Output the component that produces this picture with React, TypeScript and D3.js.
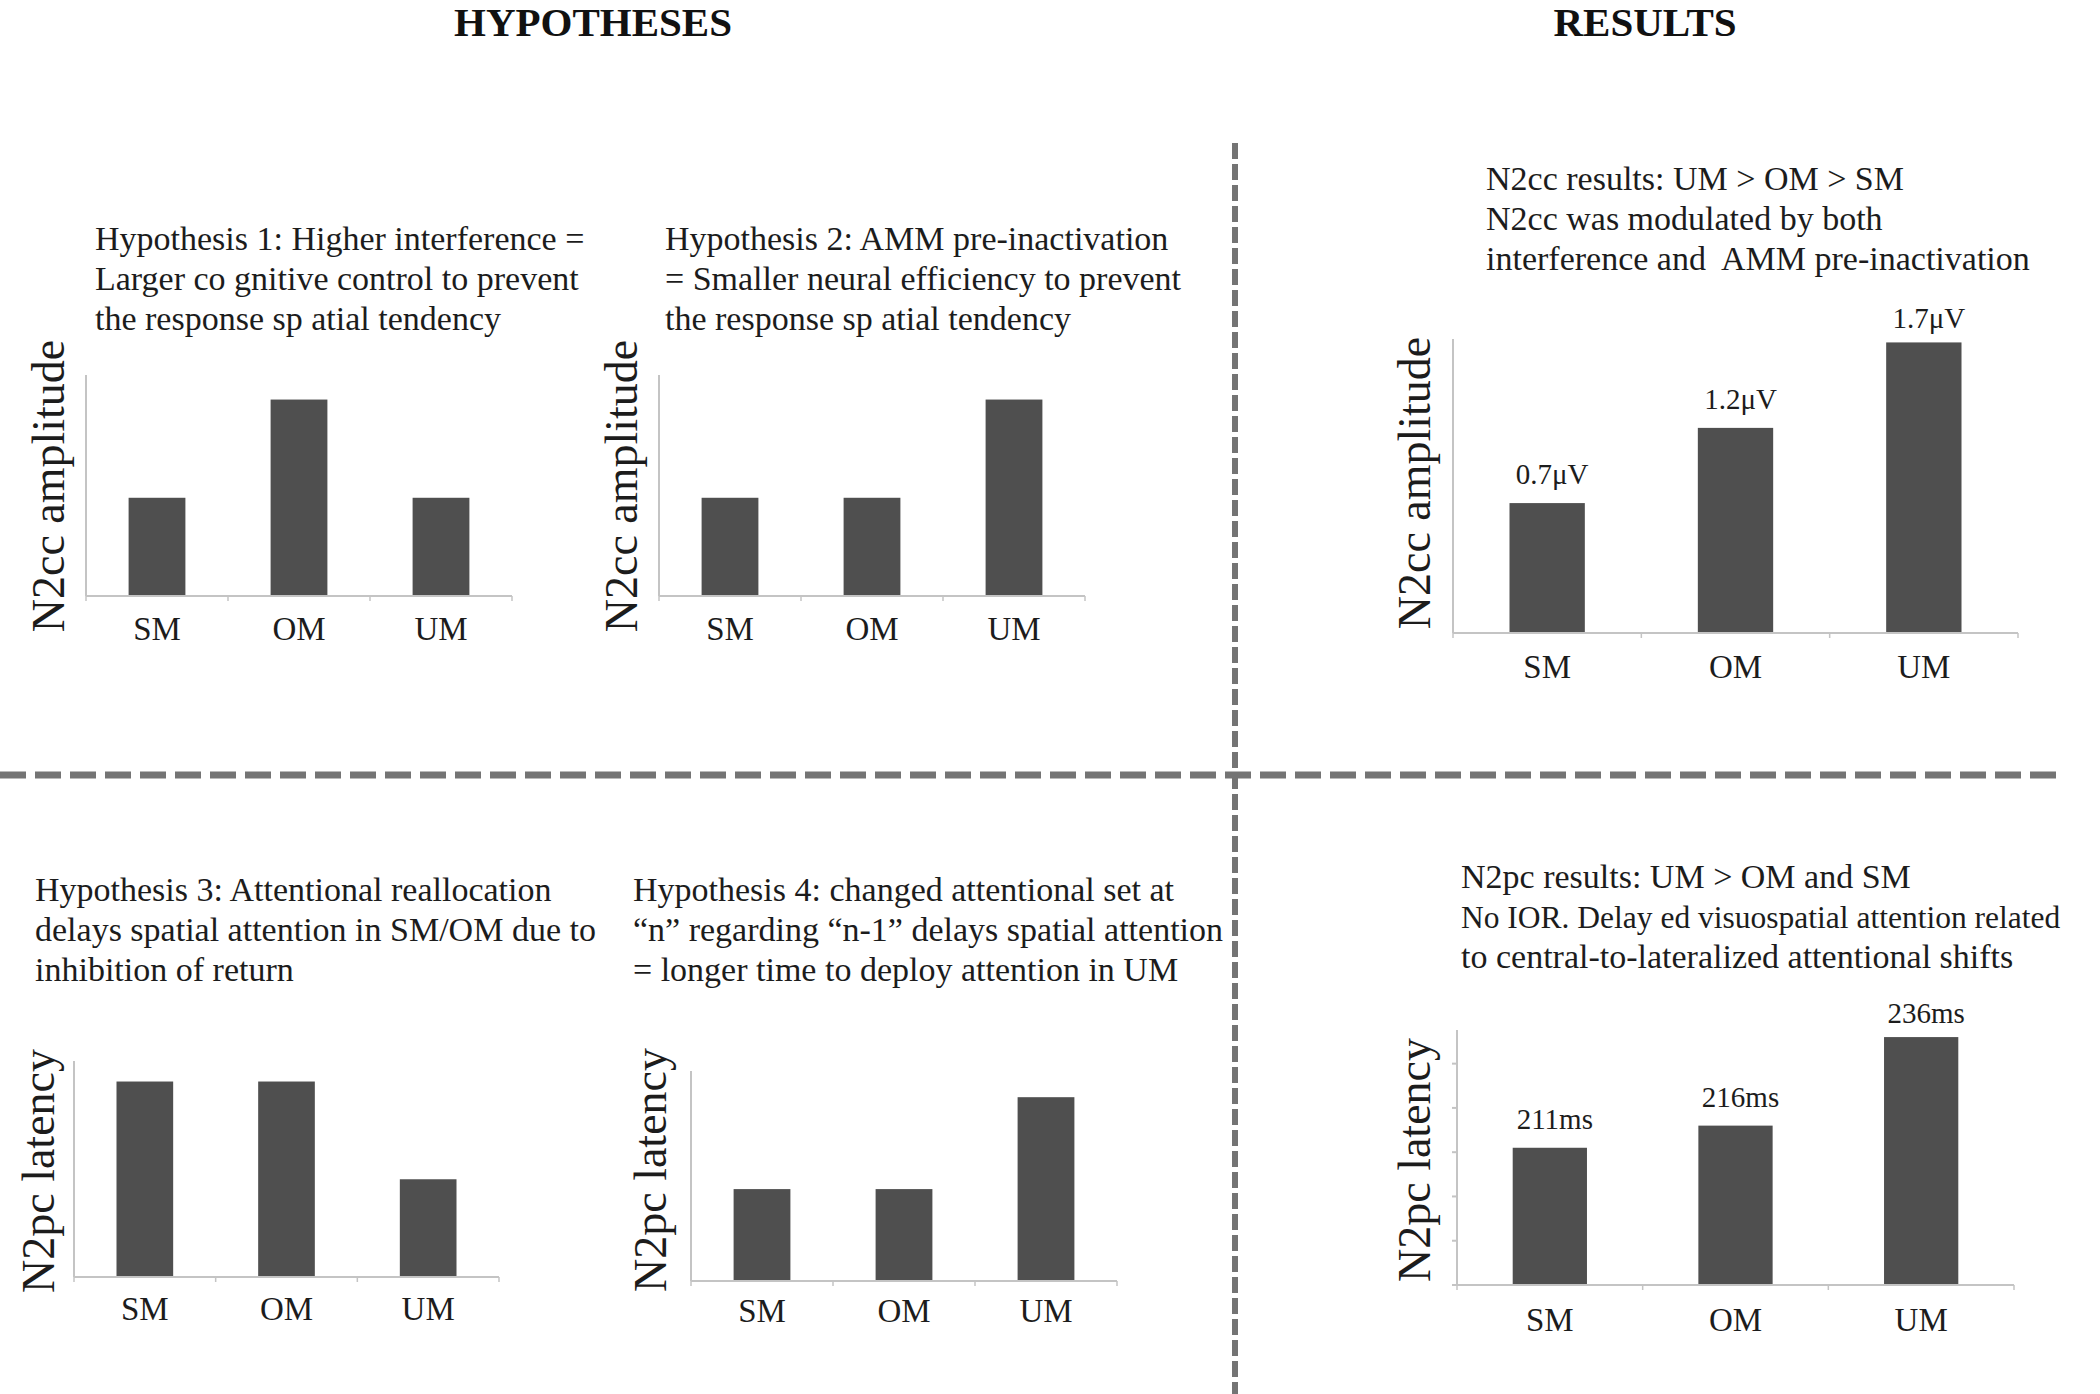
import * as d3 from "d3";

const categories = ["SM", "OM", "UM"];

// hypothesised patterns (arbitrary units)
const hyp1Values = [2, 4, 2];
const hyp2Values = [2, 2, 4];
const hyp3Values = [4, 4, 2];
const hyp4Values = [2, 2, 4];

// observed results
const n2ccValues = [0.76, 1.2, 1.7];
const n2ccLabels = ["0.7μV", "1.2μV", "1.7μV"];
const n2pcValues = [211, 216, 236];
const n2pcLabels = ["211ms", "216ms", "236ms"];
const n2pcTicks = [180, 190, 200, 210, 220, 230];

const hyp1Text = [
  "Hypothesis 1: Higher interference =",
  "Larger co gnitive control to prevent",
  "the response sp atial tendency",
];
const hyp2Text = [
  "Hypothesis 2: AMM pre-inactivation",
  "= Smaller neural efficiency to prevent",
  "the response sp atial tendency",
];
const hyp3Text = [
  "Hypothesis 3: Attentional reallocation",
  "delays spatial attention in SM/OM due to",
  "inhibition of return",
];
const hyp4Text = [
  "Hypothesis 4: changed attentional set at",
  "\u201Cn\u201D regarding \u201Cn-1\u201D delays spatial attention",
  "= longer time to deploy attention in UM",
];
const n2ccText = [
  "N2cc results: UM > OM > SM",
  "N2cc was modulated by both",
  "interference and  AMM pre-inactivation",
];
const n2pcText = [
  "N2pc results: UM > OM and SM",
  "No IOR. Delay ed visuospatial attention related",
  "to central-to-lateralized attentional shifts",
];

const FONT = "'Liberation Serif', 'Times New Roman', serif";
const BAR = "#4f4f4f";
const AXIS = "#c4c4c4";
const INK = "#1c1c1c";
const DASH = "#747474";

type Panel = {
  values: number[];
  domain: [number, number];
  x0: number;
  x1: number;
  yTop: number;
  yBottom: number;
  yTitle: string;
  titleX: number;
  titleY: number;
  labelY: number;
  text: string[];
  textX: number;
  textY: number;
  lineSize?: (number | undefined)[];
  valueLabels?: string[];
  yTicks?: number[];
};

const panels: Panel[] = [
  { values: hyp1Values, domain: [0, 4.5], x0: 86, x1: 512, yTop: 375, yBottom: 596, yTitle: "N2cc amplitude", titleX: 64, titleY: 486, labelY: 640, text: hyp1Text, textX: 95, textY: 250 },
  { values: hyp2Values, domain: [0, 4.5], x0: 659, x1: 1085, yTop: 375, yBottom: 596, yTitle: "N2cc amplitude", titleX: 637, titleY: 486, labelY: 640, text: hyp2Text, textX: 665, textY: 250 },
  { values: hyp3Values, domain: [0, 4.42], x0: 74, x1: 499, yTop: 1061, yBottom: 1277, yTitle: "N2pc latency", titleX: 54, titleY: 1171, labelY: 1320, text: hyp3Text, textX: 35, textY: 901 },
  { values: hyp4Values, domain: [0, 4.57], x0: 691, x1: 1117, yTop: 1071, yBottom: 1281, yTitle: "N2pc latency", titleX: 666, titleY: 1170, labelY: 1322, text: hyp4Text, textX: 633, textY: 901 },
  { values: n2ccValues, domain: [0, 1.72], x0: 1453, x1: 2018, yTop: 339, yBottom: 633, yTitle: "N2cc amplitude", titleX: 1430, titleY: 483, labelY: 678, text: n2ccText, textX: 1486, textY: 190, valueLabels: n2ccLabels },
  { values: n2pcValues, domain: [180, 237.6], x0: 1457, x1: 2014, yTop: 1030, yBottom: 1285, yTitle: "N2pc latency", titleX: 1430, titleY: 1160, labelY: 1331, text: n2pcText, textX: 1461, textY: 888, lineSize: [undefined, 31.5, undefined], valueLabels: n2pcLabels, yTicks: n2pcTicks },
];

function BarPanel({ p }: { p: Panel }) {
  const x = d3.scaleBand<string>().domain(categories).range([p.x0, p.x1]).paddingInner(0.6).paddingOuter(0.3);
  const y = d3.scaleLinear().domain(p.domain).range([p.yBottom, p.yTop]);
  const step = x.step();
  const bounds = d3.range(categories.length + 1).map((i) => p.x0 + i * step);
  return (
    <g>
      {p.text.map((t, i) => (
        <text
          key={i}
          x={p.textX}
          y={p.textY + i * 40}
          fontSize={(p.lineSize && p.lineSize[i]) || 34}
          fill={INK}
          style={{ whiteSpace: "pre" }}
        >
          {t}
        </text>
      ))}
      <text
        transform={`translate(${p.titleX},${p.titleY}) rotate(-90)`}
        textAnchor="middle"
        fontSize={46}
        fill={INK}
      >
        {p.yTitle}
      </text>
      <line x1={p.x0} x2={p.x0} y1={p.yTop} y2={p.yBottom} stroke={AXIS} strokeWidth={2} />
      {(p.yTicks || []).map((t) => (
        <line key={t} x1={p.x0 - 5} x2={p.x0} y1={y(t)} y2={y(t)} stroke={AXIS} strokeWidth={2} />
      ))}
      {p.values.map((v, i) => (
        <rect
          key={categories[i]}
          x={x(categories[i])}
          width={x.bandwidth()}
          y={y(v)}
          height={p.yBottom - y(v)}
          fill={BAR}
        />
      ))}
      <line x1={p.x0} x2={p.x1} y1={p.yBottom} y2={p.yBottom} stroke={AXIS} strokeWidth={2} />
      {bounds.map((bx, i) => (
        <line key={i} x1={bx} x2={bx} y1={p.yBottom} y2={p.yBottom + 5} stroke={AXIS} strokeWidth={1.5} />
      ))}
      {categories.map((c) => (
        <text key={c} x={x(c)! + x.bandwidth() / 2} y={p.labelY} textAnchor="middle" fontSize={33} fill={INK}>
          {c}
        </text>
      ))}
      {p.valueLabels &&
        p.values.map((v, i) => (
          <text
            key={i}
            x={x(categories[i])! + x.bandwidth() / 2 + 5}
            y={y(v) - (i === p.values.length - 1 ? 14 : 19)}
            textAnchor="middle"
            fontSize={29}
            fill={INK}
          >
            {p.valueLabels![i]}
          </text>
        ))}
    </g>
  );
}

export default function App() {
  return (
    <>
      <style>{`body{margin:0}`}</style>
      <svg width={2100} height={1394} viewBox="0 0 2100 1394" style={{ display: "block", background: "#fff", fontFamily: FONT }}>
        <rect width={2100} height={1394} fill="#fff" />
        <text x={593} y={36} textAnchor="middle" fontSize={41} fontWeight="bold" fill="#111">
          HYPOTHESES
        </text>
        <text x={1645} y={36} textAnchor="middle" fontSize={41} fontWeight="bold" fill="#111">
          RESULTS
        </text>
        <line x1={1235} x2={1235} y1={143} y2={1394} stroke={DASH} strokeWidth={6} strokeDasharray="16 5" />
        <line x1={0} x2={2057} y1={775} y2={775} stroke={DASH} strokeWidth={7} strokeDasharray="26 9" />
        {panels.map((p, i) => (
          <BarPanel key={i} p={p} />
        ))}
      </svg>
    </>
  );
}
